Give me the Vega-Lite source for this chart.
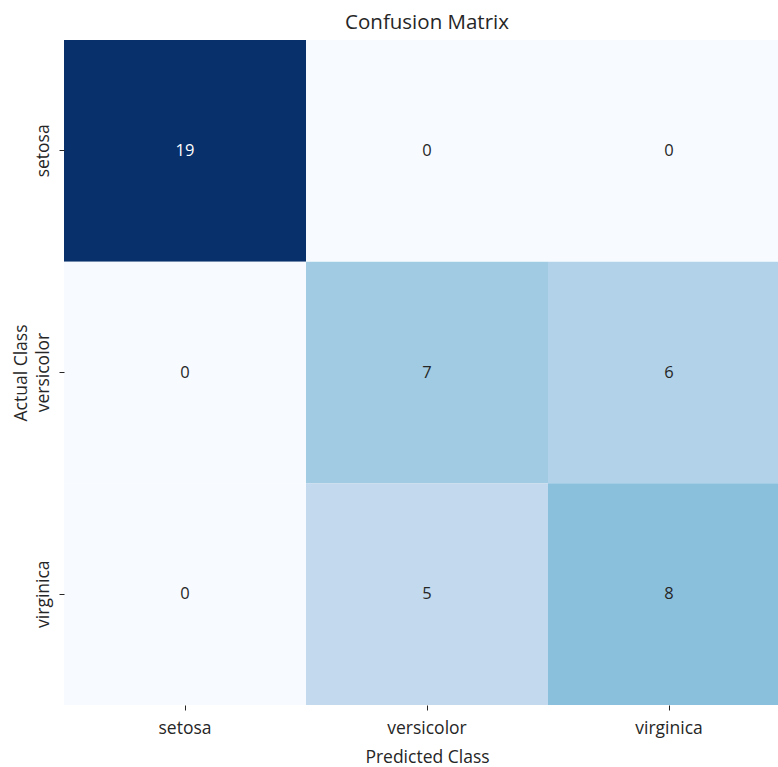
{
  "$schema": "https://vega.github.io/schema/vega-lite/v6.json",
  "autosize": {"type": "none"},
  "width": 726,
  "height": 665,
  "padding": {"left": 64, "top": 40, "right": 0, "bottom": 62},
  "background": "white",
  "title": {
    "text": "Confusion Matrix",
    "font": "Open Sans",
    "fontSize": 20.5,
    "fontWeight": "normal",
    "color": "#262626",
    "anchor": "middle",
    "offset": 7
  },
  "config": {
    "view": {"stroke": null},
    "axis": {
      "domain": false,
      "grid": false,
      "tickColor": "#262626",
      "tickSize": 5,
      "labelColor": "#262626",
      "titleColor": "#262626",
      "labelFont": "Open Sans",
      "titleFont": "Open Sans",
      "labelFontSize": 17.5,
      "titleFontSize": 17.5,
      "titleFontWeight": "normal"
    }
  },
  "data": {
    "values": [
      {"actual": "setosa", "predicted": "setosa", "count": 19},
      {"actual": "setosa", "predicted": "versicolor", "count": 0},
      {"actual": "setosa", "predicted": "virginica", "count": 0},
      {"actual": "versicolor", "predicted": "setosa", "count": 0},
      {"actual": "versicolor", "predicted": "versicolor", "count": 7},
      {"actual": "versicolor", "predicted": "virginica", "count": 6},
      {"actual": "virginica", "predicted": "setosa", "count": 0},
      {"actual": "virginica", "predicted": "versicolor", "count": 5},
      {"actual": "virginica", "predicted": "virginica", "count": 8}
    ]
  },
  "encoding": {
    "x": {
      "field": "predicted",
      "type": "nominal",
      "sort": ["setosa", "versicolor", "virginica"],
      "scale": {"paddingInner": 0, "paddingOuter": 0},
      "axis": {
        "title": "Predicted Class",
        "labelAngle": 0,
        "labelPadding": 9,
        "titlePadding": 12
      }
    },
    "y": {
      "field": "actual",
      "type": "nominal",
      "sort": ["setosa", "versicolor", "virginica"],
      "scale": {"paddingInner": 0, "paddingOuter": 0},
      "axis": {
        "title": "Actual Class",
        "labelAngle": -90,
        "labelAlign": "center",
        "labelBaseline": "bottom",
        "labelPadding": 7,
        "titlePadding": 4
      }
    }
  },
  "layer": [
    {
      "mark": {"type": "rect"},
      "encoding": {
        "color": {
          "field": "count",
          "type": "quantitative",
          "scale": {
            "domain": [0, 2.375, 4.75, 7.125, 9.5, 11.875, 14.25, 16.625, 19],
            "range": ["#f7fbff", "#deebf7", "#c6dbef", "#9ecae1", "#6baed6", "#4292c6", "#2171b5", "#08519c", "#08306b"],
            "interpolate": "rgb"
          },
          "legend": null
        }
      }
    },
    {
      "mark": {"type": "text", "font": "Open Sans", "fontSize": 16.5},
      "encoding": {
        "text": {"field": "count", "type": "quantitative"},
        "color": {
          "condition": {"test": "datum.count > 10", "value": "#ffffff"},
          "value": "#262626"
        }
      }
    }
  ]
}
